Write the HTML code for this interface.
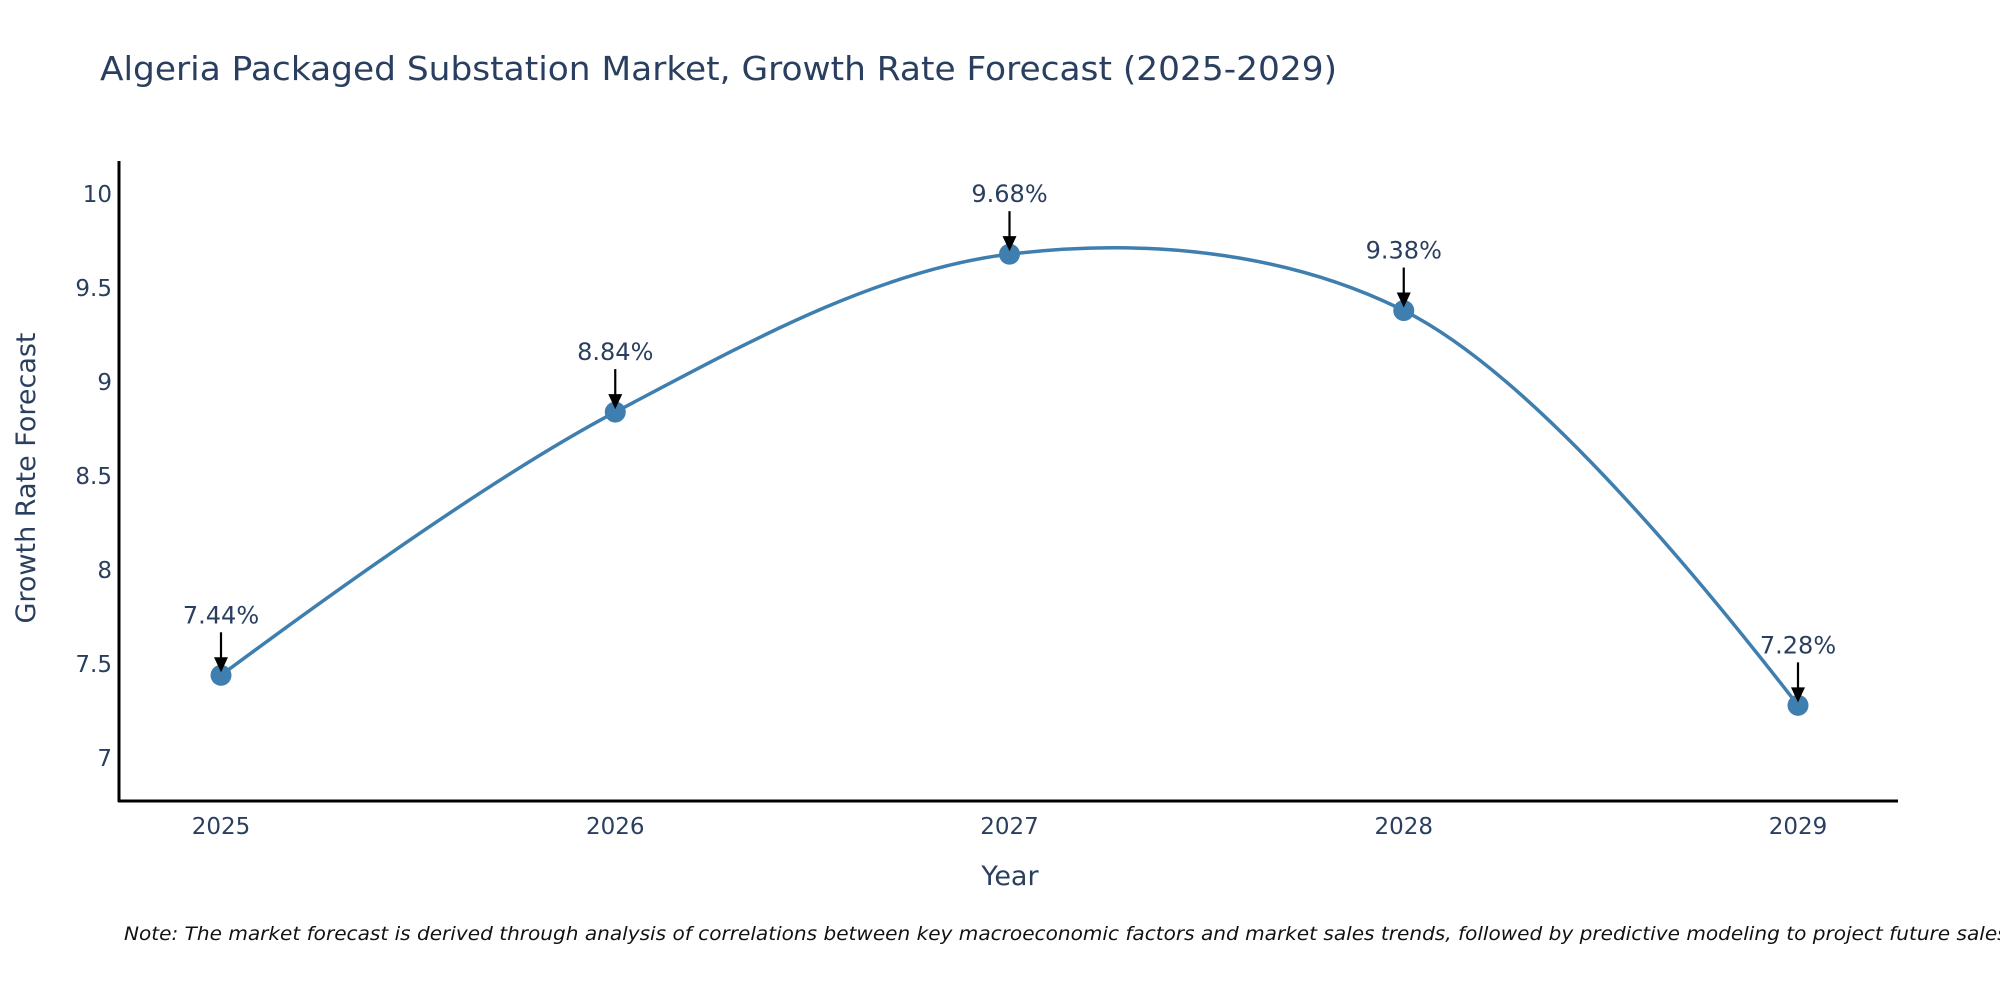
<!DOCTYPE html>
<html><head><meta charset="utf-8"><style>
html,body{margin:0;padding:0;background:#fff;}
svg{display:block;font-family:"DejaVu Sans","Liberation Sans",sans-serif;}
</style></head><body>
<svg id="chart" width="2000" height="1000" viewBox="0 0 2000 1000">
<text x="100" y="80" font-size="33" fill="#2a3f5f" textLength="1237" lengthAdjust="spacingAndGlyphs">Algeria Packaged Substation Market, Growth Rate Forecast (2025-2029)</text>
<g id="yticks"></g>
<g id="xticks"></g>
<line x1="119" y1="161" x2="119" y2="802" stroke="#000" stroke-width="3"/>
<line x1="118" y1="801" x2="1898" y2="801" stroke="#000" stroke-width="3"/>
<text transform="translate(35,478) rotate(-90)" text-anchor="middle" font-size="27" fill="#2a3f5f">Growth Rate Forecast</text>
<text x="1010" y="885" text-anchor="middle" font-size="27" fill="#2a3f5f">Year</text>
<g id="plot"></g>
<text x="124" y="940" font-size="19" font-style="italic" fill="#111" textLength="1890" lengthAdjust="spacingAndGlyphs">Note: The market forecast is derived through analysis of correlations between key macroeconomic factors and market sales trends, followed by predictive modeling to project future sales.</text>
</svg>
<script>
const years = [2025, 2026, 2027, 2028, 2029];
const growth = [7.44, 8.84, 9.68, 9.38, 7.28];
const yTickValues = [7, 7.5, 8, 8.5, 9, 9.5, 10];
const yTickLabels = ["7", "7.5", "8", "8.5", "9", "9.5", "10"];

const NS = "http://www.w3.org/2000/svg";
function xScale(v){ return 221 + (v - 2025) * (1798 - 221) / 4; }
function yScale(v){ return 758 - (v - 7) * (758 - 194) / 3; }
function mk(tag, attrs, parent){
  const e = document.createElementNS(NS, tag);
  for (const k in attrs) e.setAttribute(k, attrs[k]);
  parent.appendChild(e); return e;
}
const yt = document.getElementById('yticks');
yTickValues.forEach((v, i) => {
  const t = mk('text', {x: 112, y: yScale(v) + 8, 'text-anchor': 'end', 'font-size': 23, fill: '#2a3f5f'}, yt);
  
  
  t.textContent = yTickLabels[i];
});
const xt = document.getElementById('xticks');
years.forEach(v => {
  const t = mk('text', {x: xScale(v), y: 834, 'text-anchor': 'middle', 'font-size': 23, fill: '#2a3f5f'}, xt);
  
  
  t.textContent = String(v);
});
const plot = document.getElementById('plot');
const pts = years.map((y, i) => [xScale(y), yScale(growth[i])]);
function tangent(p0, p1, p2, s){
  const d1x = p0[0]-p1[0], d1y = p0[1]-p1[1], d2x = p2[0]-p1[0], d2y = p2[1]-p1[1];
  const d1a = Math.pow(d1x*d1x + d1y*d1y, 0.25), d2a = Math.pow(d2x*d2x + d2y*d2y, 0.25);
  const nx = (d2a*d2a*d1x - d1a*d1a*d2x)*s, ny = (d2a*d2a*d1y - d1a*d1a*d2y)*s;
  const den1 = 3*d2a*(d1a+d2a), den2 = 3*d1a*(d1a+d2a);
  return [[p1[0]+nx/den1, p1[1]+ny/den1], [p1[0]-nx/den2, p1[1]-ny/den2]];
}
const tg = [];
for (let i = 1; i < pts.length - 1; i++) tg.push(tangent(pts[i-1], pts[i], pts[i+1], 1));
const P = p => p[0].toFixed(2) + ',' + p[1].toFixed(2);
let d = 'M' + P(pts[0]) + ' Q' + P(tg[0][0]) + ' ' + P(pts[1]);
for (let i = 2; i < pts.length - 1; i++) d += ' C' + P(tg[i-2][1]) + ' ' + P(tg[i-1][0]) + ' ' + P(pts[i]);
d += ' Q' + P(tg[pts.length-3][1]) + ' ' + P(pts[pts.length-1]);
const line = mk('path', {d: d, fill: 'none', stroke: '#3f7fb0', 'stroke-width': 3.5}, plot);


pts.forEach((p, i) => {
  const c = mk('circle', {cx: p[0], cy: p[1], r: 10.5, fill: '#3f7fb0'}, plot);
  
  
  const a = mk('line', {x1: p[0], y1: p[1] - 43, x2: p[0], y2: p[1] - 16, stroke: '#000', 'stroke-width': 2.2}, plot);
  
  
  const h = mk('polygon', {points: (p[0]-7)+','+(p[1]-18)+' '+(p[0]+7)+','+(p[1]-18)+' '+p[0]+','+(p[1]-3), fill: '#000'}, plot);
  
  
  const t = mk('text', {x: p[0], y: p[1] - 52, 'text-anchor': 'middle', 'font-size': 24, fill: '#2a3f5f'}, plot);
  
  
  t.textContent = growth[i].toFixed(2) + '%';
});
</script>
</body></html>
